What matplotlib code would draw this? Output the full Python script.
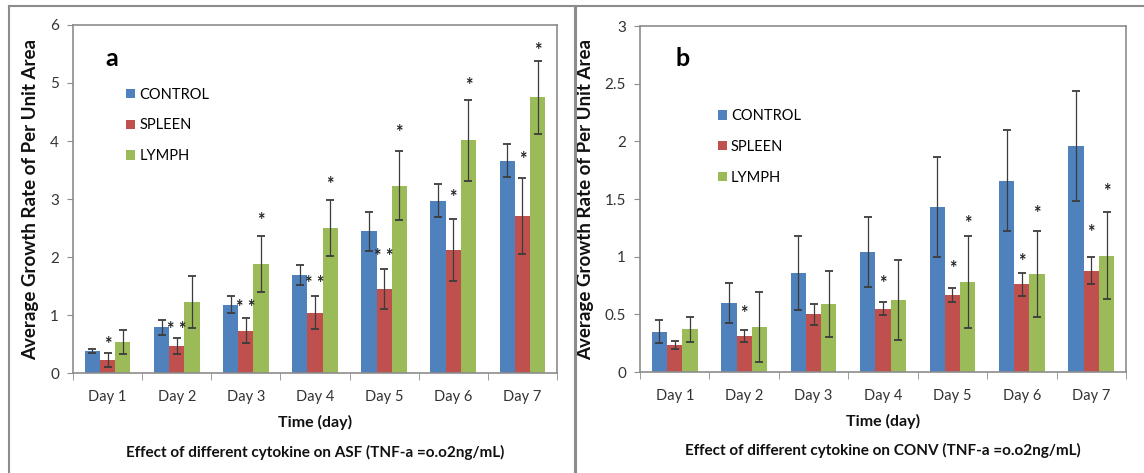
import numpy as np
import matplotlib
matplotlib.use("Agg")
import matplotlib.pyplot as plt
from matplotlib.patches import Patch
from matplotlib.lines import Line2D

plt.rcParams['font.family'] = ['Lato', 'DejaVu Sans']

days = ["Day 1", "Day 2", "Day 3", "Day 4", "Day 5", "Day 6", "Day 7"]
groups = ["CONTROL", "SPLEEN", "LYMPH"]
colors = ["#4F81BD", "#C0504D", "#9BBB59"]

# panel a: ASF
asf_control = [0.38, 0.79, 1.18, 1.69, 2.44, 2.97, 3.66]
asf_control_err = [0.04, 0.13, 0.14, 0.18, 0.33, 0.28, 0.28]
asf_spleen = [0.23, 0.47, 0.73, 1.04, 1.45, 2.12, 2.71]
asf_spleen_err = [0.12, 0.14, 0.21, 0.28, 0.35, 0.54, 0.66]
asf_lymph = [0.53, 1.22, 1.88, 2.50, 3.23, 4.01, 4.75]
asf_lymph_err = [0.21, 0.45, 0.49, 0.48, 0.59, 0.70, 0.63]
# significance marks: (group index, day index, text, height)
asf_stars = [(1, 0, "*", 0.57), (1, 1, "**", 0.83), (1, 2, "**", 1.20),
             (1, 3, "**", 1.62), (1, 4, "**", 2.08), (1, 5, "*", 3.10),
             (1, 6, "*", 3.76), (2, 2, "*", 2.70), (2, 3, "*", 3.33),
             (2, 4, "*", 4.22), (2, 5, "*", 5.03), (2, 6, "*", 5.64)]

# panel b: CONV
conv_control = [0.35, 0.60, 0.86, 1.04, 1.43, 1.66, 1.96]
conv_control_err = [0.10, 0.175, 0.32, 0.30, 0.43, 0.44, 0.48]
conv_spleen = [0.236, 0.31, 0.50, 0.55, 0.67, 0.76, 0.88]
conv_spleen_err = [0.035, 0.05, 0.09, 0.06, 0.06, 0.10, 0.12]
conv_lymph = [0.37, 0.39, 0.59, 0.625, 0.78, 0.85, 1.01]
conv_lymph_err = [0.11, 0.30, 0.29, 0.345, 0.40, 0.375, 0.38]
conv_stars = [(1, 1, "*", 0.545), (1, 3, "*", 0.80), (1, 4, "*", 0.93),
              (1, 5, "*", 0.99), (1, 6, "*", 1.25), (2, 4, "*", 1.32),
              (2, 5, "*", 1.41), (2, 6, "*", 1.60)]

W, H = 1144, 473
fig = plt.figure(figsize=(W / 100, H / 100), dpi=100)
fig.patch.set_facecolor("white")

# outer panel borders
border = "#8c8c8c"
fig.add_artist(Line2D([9 / W, 1], [1 - 6 / H, 1 - 6 / H], color=border, lw=1.5))
fig.add_artist(Line2D([9 / W, 9 / W], [0, 1 - 6 / H], color=border, lw=1.5))
fig.add_artist(Line2D([575 / W, 575 / W], [0, 1 - 6 / H], color=border, lw=2.2))


def draw_panel(rect, series, errs, stars, ymax, yticks, letter, leg_pos, caption):
    ax = fig.add_axes(rect)
    x = np.arange(len(days))
    w = 0.22
    for i, (vals, err) in enumerate(zip(series, errs)):
        ax.bar(x + (i - 1) * w, vals, w, color=colors[i], label=groups[i], zorder=2)
        ax.errorbar(x + (i - 1) * w, vals, yerr=err, fmt="none", ecolor="#3c3c3c",
                    elinewidth=0.9, capsize=3, capthick=1.3, zorder=3)
    for gi, di, txt, yv in stars:
        ax.annotate(txt.replace("**", "* *"), (x[di] + (gi - 1) * w, yv),
                    xytext=(0, -3), textcoords="offset points", ha="center",
                    va="center", fontsize=13, fontweight="bold", color="#222222",
                    zorder=4)
    ax.set_xlim(-0.5, len(days) - 0.5)
    ax.set_ylim(0, ymax)
    ax.set_yticks(yticks)
    ax.set_yticklabels([("%g" % t) for t in yticks])
    ax.set_xticks(x)
    ax.set_xticklabels(days)
    ax.set_xticks(np.arange(-0.5, len(days)), minor=True)
    ax.tick_params(axis="x", which="major", length=0, pad=12, labelsize=10.5,
                   labelcolor="#333333")
    ax.tick_params(axis="x", which="minor", length=5, color="#8c8c8c")
    ax.tick_params(axis="y", length=4, color="#8c8c8c", labelsize=11,
                   labelcolor="#333333", pad=6)
    for s in ax.spines.values():
        s.set_color("#8c8c8c")
        s.set_linewidth(1.2)
    ax.set_ylabel("Average Growth Rate of Per Unit Area", fontsize=13.5,
                  fontweight="bold", labelpad=8, color="#111111")
    ax.set_xlabel("Time (day)", fontsize=11.5, fontweight="bold", labelpad=8,
                  color="#111111")
    ax.text(leg_pos[2], 0.905, letter, transform=ax.transAxes, fontsize=18,
            fontweight="bold", va="center", ha="left")
    handles = [Patch(facecolor=c, edgecolor="none") for c in colors]
    ax.legend(handles, groups, loc="upper left", bbox_to_anchor=leg_pos[:2],
              frameon=False, fontsize=10.5, handlelength=0.6, handleheight=0.6,
              handletextpad=0.3, labelspacing=1.15, borderpad=0, borderaxespad=0)
    ax.text(0.5, -0.227, caption, transform=ax.transAxes, ha="center", va="center",
            fontsize=11, fontweight="bold", color="#111111")
    return ax


draw_panel([73 / W, 1 - 373 / H, 484 / W, 348 / H],
           [asf_control, asf_spleen, asf_lymph],
           [asf_control_err, asf_spleen_err, asf_lymph_err],
           asf_stars, 6, [0, 1, 2, 3, 4, 5, 6], "a", (0.11, 0.82, 0.066),
           "Effect of different cytokine on ASF (TNF-a =o.o2ng/mL)")

draw_panel([640 / W, 1 - 372 / H, 486 / W, 346 / H],
           [conv_control, conv_spleen, conv_lymph],
           [conv_control_err, conv_spleen_err, conv_lymph_err],
           conv_stars, 3, [0, 0.5, 1, 1.5, 2, 2.5, 3], "b", (0.16, 0.76, 0.074),
           "Effect of different cytokine on CONV (TNF-a =o.o2ng/mL)")

fig.savefig("out.png", dpi=100, facecolor="white")
